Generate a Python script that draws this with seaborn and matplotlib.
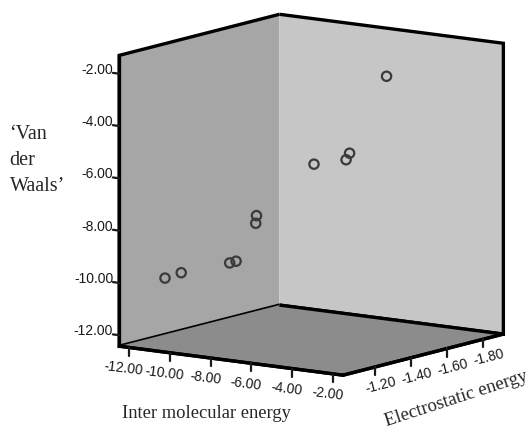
import matplotlib
matplotlib.use("Agg")
import matplotlib.pyplot as plt
import seaborn as sns
import pandas as pd

# values
inter_energy = [-10.85, -10.94, -11.57, -11.61, -9.19, -9.67, -7.34, -7.54, -7.89, -3.51]
electrostatic = [-1.09, -1.19, -1.53, -1.57, -1.41, -1.46, -1.52, -1.74, -1.76, -1.49]
van_der_waals = [-9.77, -9.75, -10.04, -10.05, -7.78, -8.21, -5.82, -5.81, -6.13, -2.02]

inter_ticks = [-12, -10, -8, -6, -4, -2]
elec_ticks = [-1.2, -1.4, -1.6, -1.8]
vdw_ticks = [-12, -10, -8, -6, -4, -2]

df = pd.DataFrame({"inter": inter_energy, "elec": electrostatic, "vdw": van_der_waals})

sns.set_style("white", {"xtick.bottom": True, "ytick.left": True})
plt.rcParams["font.family"] = ["Liberation Sans", "DejaVu Sans"]

fig = plt.figure(figsize=(5.31, 4.28), dpi=100)
ax = fig.add_subplot(projection="3d", proj_type="ortho")
ax.set_position([0.0753, 0.0315, 1.0, 1.0])
ax.view_init(elev=10.5, azim=-54.6)
ax.set_box_aspect((274, 276, 295), zoom=1.11)

ax.scatter(df["inter"], df["elec"], df["vdw"], s=45, facecolors="none",
           edgecolors="#3a3a3a", linewidths=1.6, depthshade=False)

ax.set_xlim(-12.5, -1.5)
ax.set_ylim(-1.022, -1.911)
ax.set_zlim(-12.42, -1.30)

ax.set_xticks(inter_ticks)
ax.set_yticks(elec_ticks)
ax.set_zticks(vdw_ticks)
ax.set_xticklabels([f"{t:.2f}" for t in inter_ticks])
ax.set_yticklabels([f"{t:.2f}" for t in elec_ticks])
ax.set_zticklabels([f"{t:.2f}" for t in vdw_ticks], ha="right", va="baseline")
ax.tick_params(axis="both", labelsize=10, colors="#1a1a1a")
ax.tick_params(axis="x", labelrotation=-7, pad=-2.5)
ax.tick_params(axis="y", labelrotation=14, pad=-4)
ax.tick_params(axis="z", pad=-5.5)
ax.zaxis.set_ticks_position("upper")

# SPSS-like ticks: x and electrostatic ticks hang straight down, short dark strokes
ax.xaxis._get_tickdir = lambda *a, **k: 2
ax.yaxis._get_tickdir = lambda *a, **k: 2
for axis in (ax.xaxis, ax.yaxis, ax.zaxis):
    axis._axinfo["tick"]["outward_factor"] = 0.35
    axis._axinfo["tick"]["inward_factor"] = 0.0
    axis._axinfo["tick"]["linewidth"] = {True: 1.6, False: 1.0}

ax.grid(False)
pane_colors = {"x": "#a6a6a6", "y": "#c6c6c6", "z": "#8c8c8c"}
for name, axis in (("x", ax.xaxis), ("y", ax.yaxis), ("z", ax.zaxis)):
    axis.set_pane_color(pane_colors[name])
    axis.pane.set_edgecolor("black")
    axis.pane.set_linewidth(2.4)
    axis.line.set_color("black")
    axis.line.set_linewidth(2.4)

serif = ["Liberation Serif", "DejaVu Serif"]
fig.text(0.23, 0.035, "Inter molecular energy", fontsize=13.3, family=serif, ha="left", va="center")
fig.text(0.728, 0.004, "Electrostatic energy", fontsize=13.5, family=serif, rotation=18,
         rotation_mode="anchor", ha="left", va="baseline")
fig.text(0.018, 0.625, "\u2018Van\nder\nWaals\u2019", fontsize=14.5, family=serif, ha="left",
         va="center", linespacing=1.5)

fig.savefig("out.png", dpi=100)
